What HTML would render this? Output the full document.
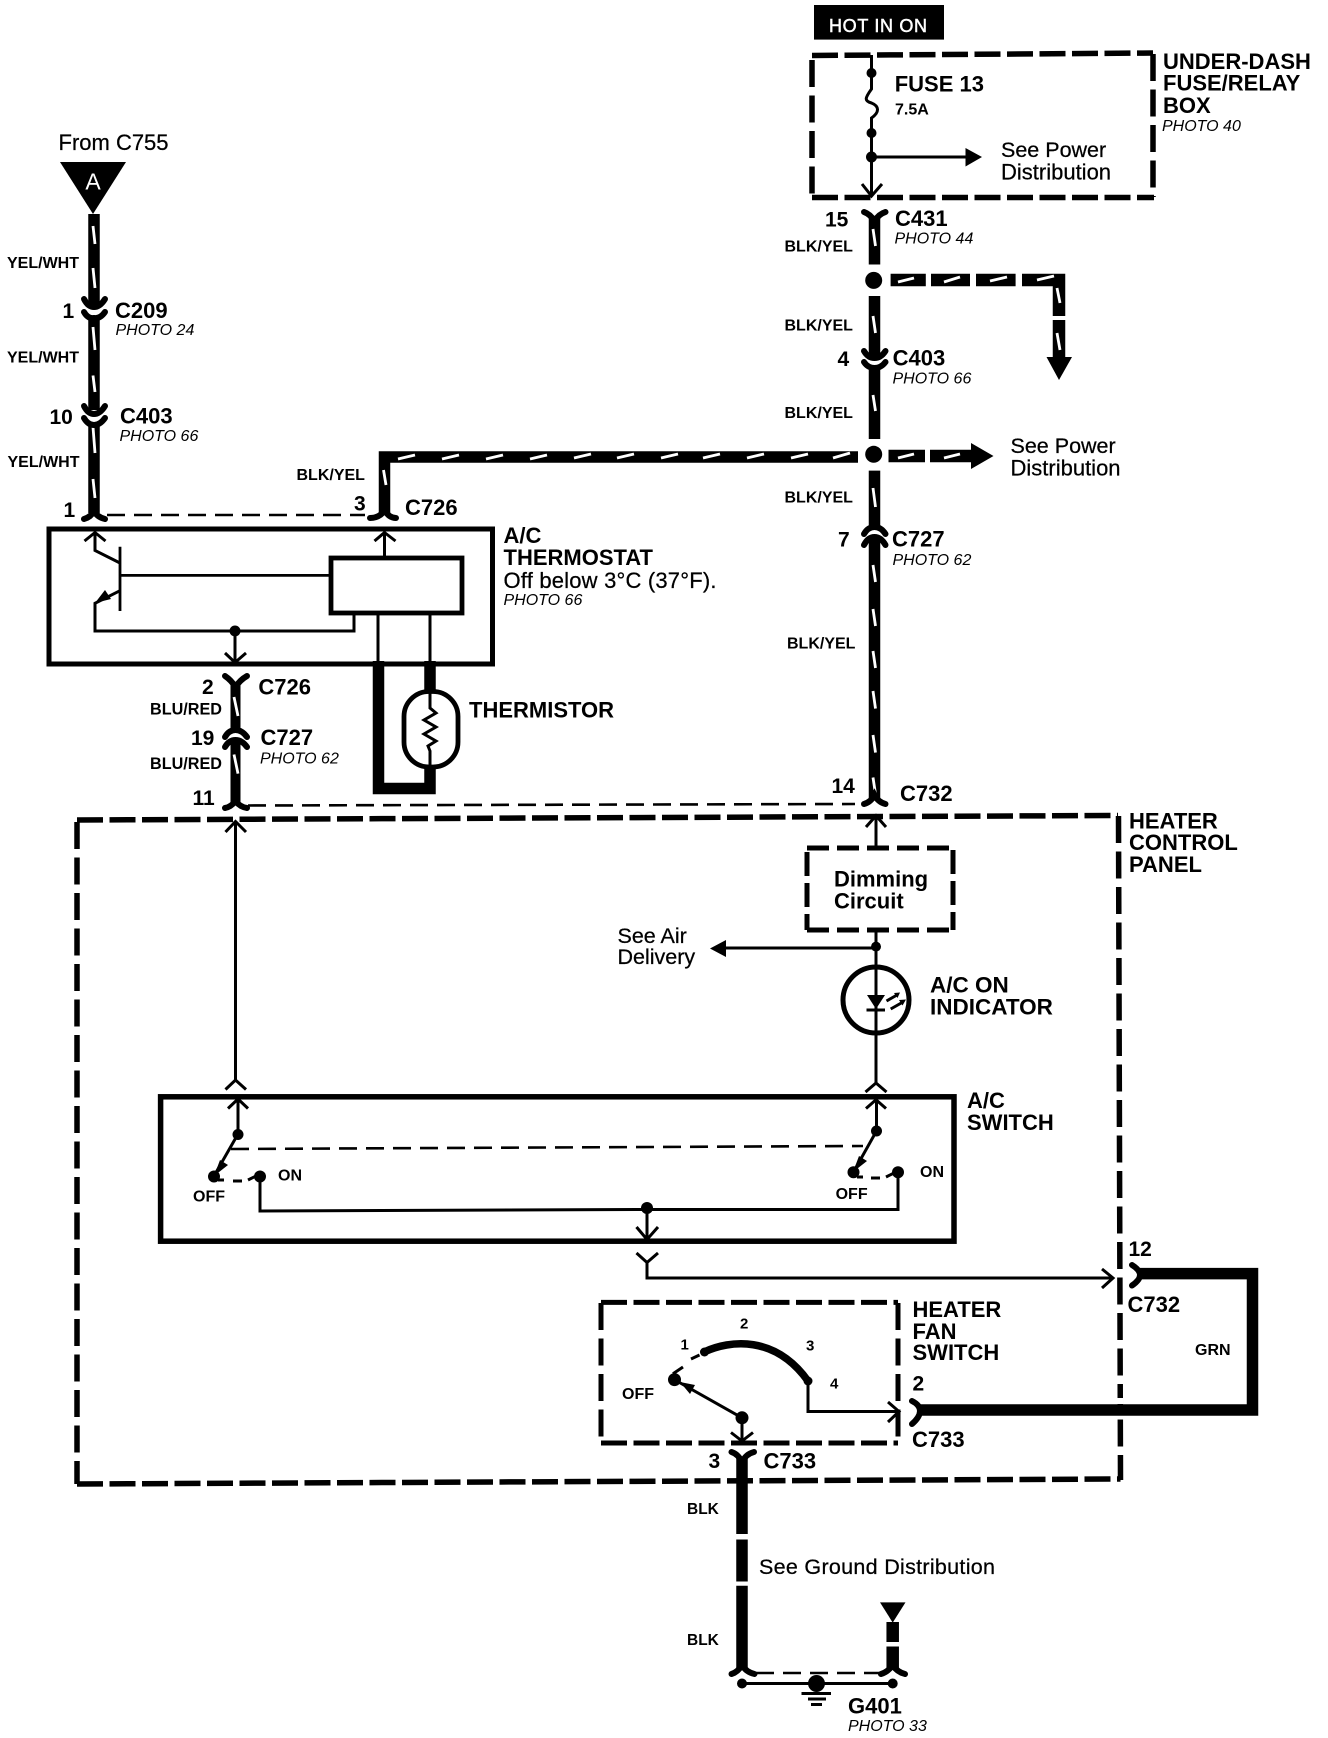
<!DOCTYPE html>
<html><head><meta charset="utf-8"><style>
html,body{margin:0;padding:0;background:#fff}
svg{display:block}
text{font-family:"Liberation Sans",Arial,sans-serif;fill:#000}
.b{font-weight:700;font-size:22px}
.n{font-weight:700;font-size:21px}
.s{font-weight:700;font-size:16px}
.r{font-size:22px;stroke:#000;stroke-width:.25}
.i{font-style:italic;font-size:16px}
.w{fill:none;stroke:#000;stroke-width:11.5}
.sl{fill:none;stroke:#fff;stroke-width:2.8}
.f{fill:none;stroke:#000;stroke-width:6;stroke-linecap:round}
.t{fill:none;stroke:#000;stroke-width:2.8}
.c{fill:none;stroke:#000;stroke-width:3}
.d{fill:none;stroke:#000;stroke-width:5.5;stroke-dasharray:26 6.5}
.v{fill:none;stroke:#000;stroke-width:5.5;stroke-dasharray:27 8.5}
.h{fill:none;stroke:#000;stroke-width:2.6;stroke-dasharray:18 9}
.k{fill:none;stroke:#000}
</style></head><body>
<svg width="1328" height="1738" viewBox="0 0 1328 1738" xmlns="http://www.w3.org/2000/svg">
<rect width="1328" height="1738" fill="#fff"/>

<!-- Left feed -->
<text class="r" x="58.500" y="150">From C755</text>
<polygon points="60,162 126,162 93,214"/>
<text x="93" y="189.500" text-anchor="middle" style="font-size:23px;fill:#fff">A</text>
<path class="w" d="M94 214V305M94 316V410M94 424V513"/>
<path class="sl" d="M93 226L95 244M93 268L95 288M93 327L95 350M93 375.500L95 392M93 427L95 453M93 479L95 498"/>
<path class="f" d="M84 299Q88 307 94 307Q100 307 105 299"/>
<path class="f" d="M84 312Q88 319 94 318Q100 319 105 312"/>
<path class="f" d="M84 406Q88 414 94 414Q100 414 105 406"/>
<path class="f" d="M84 418Q88 425 94 425Q100 425 105 418"/>
<path class="f" d="M84 519Q91 517 94 511Q97 517 105 519"/>
<text class="s" x="7" y="268">YEL/WHT</text>
<text class="s" x="7" y="362.500">YEL/WHT</text>
<text class="s" x="7.500" y="467">YEL/WHT</text>
<text class="n" x="62.500" y="318">1</text>
<text class="b" x="115" y="318">C209</text>
<text class="i" x="115.500" y="335">PHOTO 24</text>
<text class="n" x="49.500" y="424">10</text>
<text class="b" x="120" y="423.600">C403</text>
<text class="i" x="119.500" y="441">PHOTO 66</text>
<text class="n" x="63.500" y="517">1</text>
<path class="h" d="M107 515H365"/>

<!-- BLK/YEL long run -->
<path class="w" d="M384.500 513V457H858" style="stroke-width:11.500"/>
<path class="sl" d="M383.500 470L386 485"/>
<path class="sl" d="M398 459L415 455M442 459L459 455M486 459L503 455M530 459L547 455M574 458L591 454M617 458L634 454M661 458L678 454M703 458L720 454M747 458L764 454M791 458L808 454M833 458L850 453"/>
<path class="f" d="M370 518Q380 518 384.500 510Q389 518 396 518"/>
<text class="s" x="296.500" y="480">BLK/YEL</text>
<text class="n" x="354" y="510.500">3</text>
<text class="b" x="405" y="515">C726</text>

<!-- Thermostat -->
<rect class="k" x="49" y="529" width="443.500" height="135" style="stroke-width:5"/>
<path class="c" d="M84.500 541L95 532.500L105.500 541M95 532.500V550.500L120 563"/>
<path class="k" style="stroke-width:2.800" d="M120 546.700V611M120 575.400H330"/>
<path class="c" d="M120 590.700L95 603.300V631H354V613"/>
<polygon points="95,603 105,590 111,599"/>
<circle cx="235" cy="631" r="5.500"/>
<path class="c" d="M235 631V662.500M225 653L235 662.500L246 653"/>
<rect class="k" x="331" y="558" width="131" height="55" style="stroke-width:4.800"/>
<path class="c" d="M384.500 556V532.500M374.500 541L384.500 532.500L395.500 541"/>
<path class="c" d="M378 613V662M430 613V662"/>
<path class="k" style="stroke-width:11.500" d="M378.500 661V788.500H430V768M430 661V690"/>
<rect class="k" x="404" y="691.500" width="54" height="75.500" rx="25" ry="25" style="stroke-width:4.800"/>
<path class="c" d="M430 690V708L436 713L424 720L436 727L424 734L436 741L428 746L430 751V768"/>
<text class="b" x="469" y="717.400">THERMISTOR</text>
<text class="b" x="503.500" y="543">A/C</text>
<text class="b" x="503.500" y="565">THERMOSTAT</text>
<text class="r" x="503.500" y="588" textLength="213" lengthAdjust="spacing">Off below 3°C (37°F).</text>
<text class="i" x="503.500" y="605">PHOTO 66</text>

<!-- BLU/RED -->
<path class="w" d="M235.500 684V731M235.500 741V803" style="stroke-width:10"/>
<path class="sl" d="M234 697L238 716M234 754.500L238 773.600"/>
<path class="f" d="M225 676Q231 680 235.500 687Q240 680 247 676"/>
<path class="f" d="M225 737Q229 730 235.500 730Q242 730 247 737"/>
<path class="f" d="M225 747Q229 740 235.500 740Q242 740 247 747"/>
<path class="f" d="M225 808Q231 807 235.500 801Q240 807 247 808"/>
<text class="n" x="202" y="694">2</text>
<text class="b" x="258.400" y="694.400">C726</text>
<text class="s" x="150" y="714.300" style="font-size:16.200px">BLU/RED</text>
<text class="n" x="191" y="745">19</text>
<text class="b" x="260.500" y="745">C727</text>
<text class="i" x="260" y="763.300">PHOTO 62</text>
<text class="s" x="150" y="769" style="font-size:16.200px">BLU/RED</text>
<text class="n" x="192.500" y="805">11</text>
<path class="h" d="M248 805.500L855 804"/>

<!-- Hot in on / fuse box -->
<rect x="814" y="5" width="130" height="34.600"/>
<text x="829" y="32" textLength="98" lengthAdjust="spacing" style="font-size:18px;fill:#fff;stroke:#fff;stroke-width:.5">HOT IN ON</text>
<path class="d" d="M812 55.500L1153 53"/>
<path class="d" d="M812 197.500H1154"/>
<path class="v" d="M812 60V197"/>
<path class="v" d="M1153 54V197"/>
<path class="c" d="M871.500 55V89C865 98 864 101 871.500 103C879 106 880 112 871.500 118V196"/>
<circle cx="871.500" cy="73" r="5"/><circle cx="871.500" cy="133" r="5"/><circle cx="871.500" cy="157" r="5.500"/>
<path class="c" d="M871.500 157H966"/>
<polygon points="965.500,148 982,157 965.500,166.500"/>
<path class="c" d="M862 184L871.500 196L882 184"/>
<text class="b" x="894.700" y="91.700">FUSE 13</text>
<text class="s" x="895" y="114.700">7.5A</text>
<text class="r" x="1001" y="157" style="font-size:21.500px">See Power</text>
<text class="r" x="1001" y="179.400">Distribution</text>
<text class="b" x="1163" y="69">UNDER-DASH</text>
<text class="b" x="1163" y="90.600">FUSE/RELAY</text>
<text class="b" x="1163" y="112.800">BOX</text>
<text class="i" x="1162" y="131">PHOTO 40</text>

<!-- Right main -->
<path class="w" d="M874.500 217V264.500M874.500 296V356M874.500 366V439M874.500 470.600V529M874.500 540V798"/>
<path class="sl" d="M873 229L875.500 246M873 316L875.500 333M873 395L875.500 411M873 488L875.500 507M873 565L875.500 582M873 609L875.500 626M873 651L875.500 668M873 691L875.500 708.600M873 735L875.500 752.600M873 777.500L875.500 794"/>
<path class="f" d="M864 212Q870 214 874.500 221Q879 214 885.500 212"/>
<path class="f" d="M864 351Q868 358 874.500 358Q881 358 885.500 351"/>
<path class="f" d="M864 362Q868 368 874.500 368Q881 368 885.500 362"/>
<path class="f" d="M864 534Q868 527 874.500 527Q881 527 885.500 534"/>
<path class="f" d="M864 545Q868 537 874.500 537Q881 537 885.500 545"/>
<path class="f" d="M864 804Q871 802 874.500 795Q878 802 885.500 804"/>
<circle cx="873.700" cy="280.400" r="8.500"/><circle cx="873.700" cy="454.300" r="8.500"/>
<path class="w" style="stroke-width:12.500" d="M890.600 280H925.800M931 280H970M976 280H1015.600M1022 280H1059V316M1059 320V358M888.500 456H925M930 456H972"/>
<polygon points="1046.500,357 1072,357 1059,380"/>
<polygon points="971,443 993.500,456 971,469"/>
<path class="sl" d="M898 282L914 278M944 282L960 277M990 281L1007 277M1037 280L1054 276M1057 288L1060 303M1057 333L1060 350M898 458L914 454M944 458L960 454"/>
<text class="n" x="825" y="226.400">15</text>
<text class="b" x="895" y="226">C431</text>
<text class="i" x="894.500" y="243.400">PHOTO 44</text>
<text class="s" x="784.500" y="251.600">BLK/YEL</text>
<text class="s" x="784.500" y="330.400">BLK/YEL</text>
<text class="n" x="837.500" y="366">4</text>
<text class="b" x="892.600" y="365.500">C403</text>
<text class="i" x="892.500" y="383.600">PHOTO 66</text>
<text class="s" x="784.500" y="418">BLK/YEL</text>
<text class="r" x="1010.500" y="453" style="font-size:21.500px">See Power</text>
<text class="r" x="1010.500" y="475.400">Distribution</text>
<text class="s" x="784.500" y="502.400">BLK/YEL</text>
<text class="n" x="838" y="546.700">7</text>
<text class="b" x="892" y="546.700">C727</text>
<text class="i" x="892.500" y="565">PHOTO 62</text>
<text class="s" x="787" y="648.500">BLK/YEL</text>
<text class="n" x="831.500" y="792.800">14</text>
<text class="b" x="900" y="801">C732</text>

<!-- Heater control panel -->
<path class="d" d="M77 820L1118 815.500"/>
<path class="d" d="M77 1484L1120.500 1479"/>
<path class="v" d="M77 822V1484"/>
<path class="v" d="M1118.500 816L1120.500 1480"/>
<text class="b" x="1129" y="828.400">HEATER</text>
<text class="b" x="1129" y="850">CONTROL</text>
<text class="b" x="1129" y="872">PANEL</text>
<path class="c" d="M225.500 832L235.500 821.500L246 832M235.500 821.500V1080M225.500 1089.500L235.500 1080L246 1089.500"/>
<path class="c" d="M866 827L876 815.700L886 827M876 815.700V848"/>

<!-- Dimming -->
<path class="d" style="stroke-width:5;stroke-dasharray:22 8" d="M807 848H953"/>
<path class="d" style="stroke-width:5;stroke-dasharray:22 8" d="M807 930H953"/>
<path class="v" style="stroke-width:5;stroke-dasharray:24 7" d="M807 852V930"/>
<path class="v" style="stroke-width:5;stroke-dasharray:24 7" d="M953 850V930"/>
<text class="b" x="834" y="886.500">Dimming</text>
<text class="b" x="834" y="908.700">Circuit</text>
<path class="c" d="M876 930V1083.500M876 948H725"/>
<path class="c" d="M865.500 1092L876 1083L886.500 1092"/>
<circle cx="876" cy="946.600" r="5"/>
<polygon points="726,940 710,948.500 726,957"/>
<text class="r" x="617.500" y="942.800" style="font-size:21.500px">See Air</text>
<text class="r" x="617.500" y="963.800" style="font-size:21.500px">Delivery</text>
<circle class="k" cx="876" cy="1000" r="33" style="stroke-width:5"/>
<polygon points="867,995 885,995 876,1009"/>
<path class="c" d="M866.500 1010H885"/>
<path class="c" d="M886.500 1001L897 995M890.700 1009L903 1002"/>
<polygon points="900,992.500 894,993 897.500,998"/><polygon points="906,999.500 899,1000 902.500,1005.500"/>
<text class="b" x="930" y="992.500" style="font-size:22.500px">A/C ON</text>
<text class="b" x="930" y="1014.700" style="font-size:22.500px">INDICATOR</text>

<!-- A/C switch -->
<rect class="k" x="160.600" y="1096.800" width="793.400" height="144.400" style="stroke-width:5.500"/>
<text class="b" x="967" y="1108">A/C</text>
<text class="b" x="967" y="1130">SWITCH</text>
<path class="c" d="M228 1108.500L238 1099L248 1108.500M238 1099V1134L214 1176"/>
<path class="c" d="M866 1108.500L876 1099.700L886 1108.500M876.500 1099.700V1131L853.500 1172"/>
<circle cx="238" cy="1134.500" r="5.500"/><circle cx="214" cy="1176.500" r="6"/><polygon points="214,1176 220,1160 228,1165"/>
<circle cx="876.500" cy="1131" r="5.500"/><circle cx="853.500" cy="1172.300" r="6"/><polygon points="853,1172 859,1156 867,1161"/>
<path class="h" d="M231 1149L863 1146"/>
<circle cx="260" cy="1176.500" r="6"/><circle cx="898" cy="1172.300" r="6"/>
<path class="c" d="M218 1180H224M233 1181H242M248 1180L256 1176M857 1177H863M871 1178H880M886 1177L894 1173"/>
<path class="c" d="M260 1176.500V1211L647 1209.500H898V1172.300"/>
<circle cx="647" cy="1208" r="6"/>
<path class="c" d="M647 1208V1239.500M636.500 1227L647 1239.500L658 1227"/>
<text class="s" x="193" y="1201.700">OFF</text>
<text class="s" x="278" y="1180.700">ON</text>
<text class="s" x="835.600" y="1198.800">OFF</text>
<text class="s" x="920" y="1177">ON</text>
<path class="c" d="M636.500 1253L647 1262.500L658 1253M647 1262.500V1278H1113M1102 1269L1113 1278L1102 1288"/>

<!-- Fan switch -->
<path class="d" style="stroke-width:5" d="M601 1302.400H898"/>
<path class="d" style="stroke-width:5" d="M601 1443H898"/>
<path class="v" style="stroke-width:5" d="M601 1303V1443"/>
<path class="v" style="stroke-width:5" d="M898 1303V1443"/>
<path class="k" style="stroke-width:7.500;stroke-linecap:round" d="M704 1352C730 1340 775 1335 808 1381"/>
<circle cx="704.500" cy="1352" r="4.500"/><circle cx="808" cy="1381" r="4.500"/>
<path class="c" d="M691 1359L699.500 1355M673 1373.700L683 1367"/>
<circle cx="674.500" cy="1379.600" r="6.500"/><circle cx="742" cy="1417.800" r="6.500"/>
<path class="c" d="M742 1417.800L675 1380M742 1417.800V1441M731 1432.500L742 1441L753 1432.500"/>
<polygon points="680,1382 695,1385 690,1394"/>
<path class="c" d="M808 1381V1411.500H899M888 1402L899 1411.500L888 1422"/>
<text class="s" x="680.500" y="1349.400" style="font-size:15px">1</text>
<text class="s" x="740" y="1328.400" style="font-size:15px">2</text>
<text class="s" x="806" y="1350.700" style="font-size:15px">3</text>
<text class="s" x="830" y="1388.400" style="font-size:15px">4</text>
<text class="s" x="622" y="1399">OFF</text>
<text class="b" x="912.500" y="1317">HEATER</text>
<text class="b" x="912.500" y="1339">FAN</text>
<text class="b" x="912.500" y="1360">SWITCH</text>
<text class="n" x="912.500" y="1390.500">2</text>
<text class="b" x="912" y="1447">C733</text>

<!-- GRN -->
<path class="w" d="M1139 1273.600H1252.500V1410H919"/>
<rect x="1113" y="1398" width="10" height="6" fill="#fff"/>
<path class="f" d="M1132 1265Q1140 1270 1140 1275Q1140 1280 1132 1285.500"/>
<path class="f" d="M912 1401Q920 1405 920 1411Q920 1417 912 1424"/>
<text class="n" x="1128.500" y="1256">12</text>
<text class="b" x="1127.500" y="1312">C732</text>
<text class="s" x="1195" y="1355">GRN</text>

<!-- Ground -->
<path class="w" d="M742 1458V1534M742 1539.500V1581.500M742 1585.700V1669"/>
<path class="f" d="M731.500 1452Q738 1454 742 1462Q746 1454 754 1452"/>
<path class="f" d="M731.500 1674Q738 1672 742 1665Q746 1672 754.500 1674"/>
<polygon points="880,1602.400 905.500,1602.400 892.700,1622.600"/>
<path class="w" style="stroke-width:12.500" d="M892.700 1622V1642M892.700 1646.500V1668"/>
<path class="f" d="M881 1674Q888 1672 892.700 1665Q897 1672 905 1674"/>
<path class="h" d="M756 1673H884"/>
<path class="k" style="stroke-width:3" d="M742 1683.500H892.700"/>
<circle cx="742" cy="1683.500" r="5"/><circle cx="892.700" cy="1683.500" r="5"/><circle cx="816.500" cy="1683.500" r="8.500"/>
<path class="k" style="stroke-width:3" d="M801.500 1693.500H831M808 1699H826M811 1704.500H822"/>
<text class="n" x="708.500" y="1468">3</text>
<text class="b" x="763.500" y="1468.600">C733</text>
<text class="s" x="687" y="1514" style="font-size:15.500px">BLK</text>
<text class="s" x="687" y="1645" style="font-size:15.500px">BLK</text>
<text class="r" x="759" y="1574" textLength="236" lengthAdjust="spacing" style="font-size:21.500px">See Ground Distribution</text>
<text class="b" x="848" y="1713.700">G401</text>
<text class="i" x="848" y="1731">PHOTO 33</text>
</svg>
</body></html>
